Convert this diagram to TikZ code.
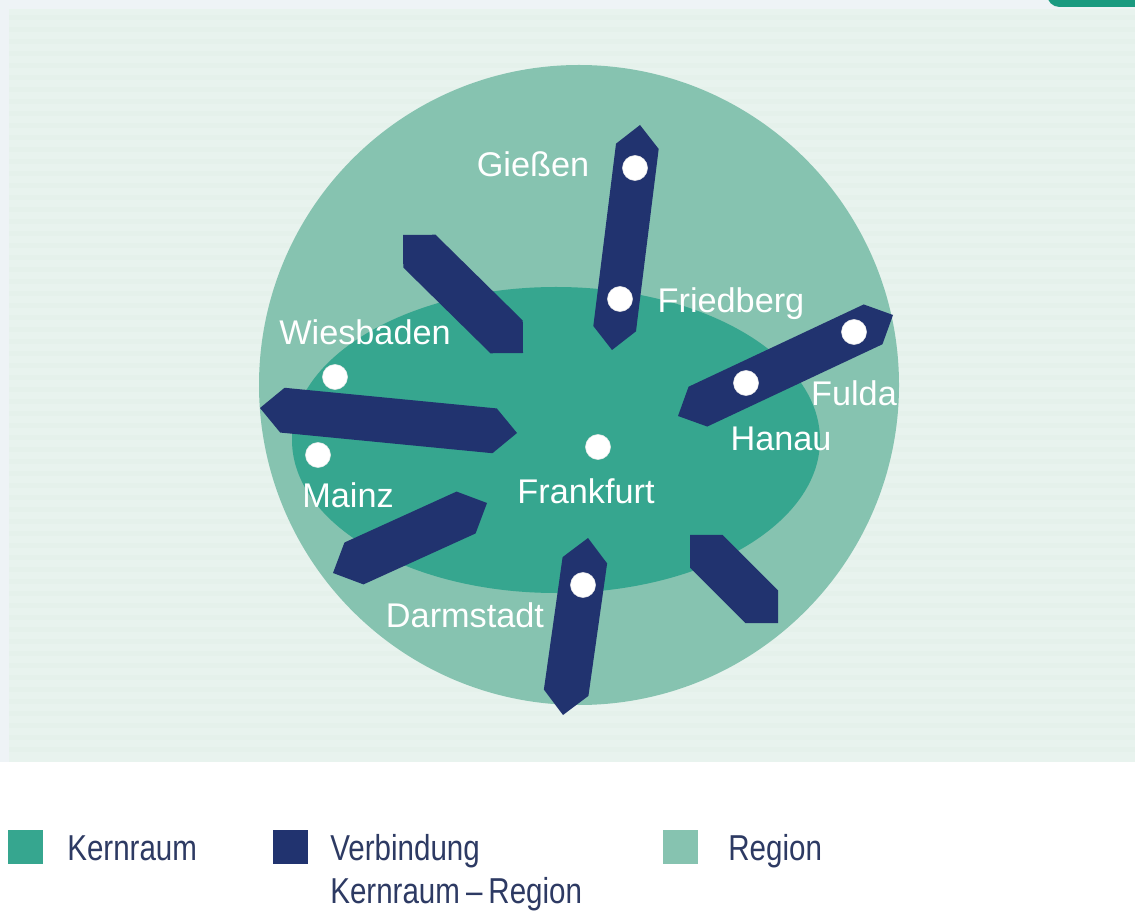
\documentclass[tikz,border=0pt]{standalone}
\usepackage{fontspec}
\setmainfont{Liberation Sans}
\newfontfamily\legendfont[FakeStretch=0.82]{Liberation Sans}
\usetikzlibrary{calc}
\definecolor{regioncol}{HTML}{86C3B0}
\definecolor{kerncol}{HTML}{36A68F}
\definecolor{barblue}{HTML}{21336F}
\definecolor{panelcol}{HTML}{E8F3EE}
\definecolor{stripecol}{HTML}{E5F1EB}
\definecolor{outercol}{HTML}{EEF3F6}
\definecolor{cornercol}{HTML}{1A9A80}
\definecolor{legtext}{HTML}{2D3A63}
\tikzset{
  citydot/.style={circle, fill=white, draw=white!85!gray, line width=0.3pt, minimum size=0.5cm, inner sep=0pt},
  citylabel/.style={text=white, inner sep=0pt, anchor=base, font=\fontsize{19.5}{23}\selectfont},
  legendlabel/.style={text=legtext, inner sep=0pt, anchor=base west, font=\legendfont\fontsize{20.5}{24}\selectfont},
  legendbox/.style={inner sep=0pt, minimum width=0.7cm, minimum height=0.68cm, anchor=north west}
}
\newcommand{\linkbar}[4]{%
  \coordinate (#1-a) at #2;
  \coordinate (#1-b) at #3;
  \coordinate (#1-a1) at ($(#1-a)!#4!(#1-b)$);
  \coordinate (#1-b1) at ($(#1-b)!#4!(#1-a)$);
  \fill[barblue] (#1-a) -- ($(#1-a1)!#4!90:(#1-b)$) -- ($(#1-b1)!#4!-90:(#1-a)$)
     -- (#1-b) -- ($(#1-b1)!#4!90:(#1-a)$) -- ($(#1-a1)!#4!-90:(#1-b)$) -- cycle;
}
\begin{document}
\begin{tikzpicture}[x=0.02cm, y=-0.02cm]
\useasboundingbox (0,0) rectangle (1135,911);
% backgrounds
\fill[white] (0,0) rectangle (1135,911);
\fill[outercol] (0,0) rectangle (1135,762);
\fill[panelcol] (9,9) rectangle (1135,762);
\foreach \yy in {15,27,...,755} \fill[stripecol] (9,\yy) rectangle (1135,\yy+5);
\begin{scope}
  \clip (0,0) rectangle (1135,911);
  \fill[cornercol, rounded corners=0.25cm] (1047,-30) rectangle (1180,7);
\end{scope}
% region and core
\fill[regioncol] (579,385) circle[radius=320];
\fill[kerncol] (556,440) ellipse[x radius=264, y radius=153];
% connection bars
\linkbar{giessen}{(640,125)}{(612,350)}{0.43cm}
\linkbar{fulda}{(678,416)}{(893,315)}{0.44cm}
\linkbar{nw}{(403,235)}{(523,353)}{0.46cm}
\linkbar{west}{(260,408)}{(517,433)}{0.45cm}
\linkbar{sw}{(333,573)}{(487,503)}{0.46cm}
\linkbar{darm}{(588,538)}{(563,715)}{0.45cm}
\linkbar{se}{(690,535)}{(778,623)}{0.46cm}
% city dots
\node[citydot] (d-giessen) at (635,168) {};
\node[citydot] (d-friedberg) at (620,299) {};
\node[citydot] (d-fulda) at (854,332) {};
\node[citydot] (d-hanau) at (746,383) {};
\node[citydot] (d-wiesbaden) at (335,377) {};
\node[citydot] (d-mainz) at (318,455) {};
\node[citydot] (d-frankfurt) at (598,447) {};
\node[citydot] (d-darmstadt) at (583,585) {};
% labels
\node[citylabel] (l-giessen) at (533,177) {Gießen};
\node[citylabel] (l-friedberg) at (731,313) {Friedberg};
\node[citylabel] (l-wiesbaden) at (365,345) {Wiesbaden};
\node[citylabel] (l-fulda) at (854,406) {Fulda};
\node[citylabel] (l-hanau) at (781,451) {Hanau};
\node[citylabel] (l-mainz) at (348,508) {Mainz};
\node[citylabel] (l-frankfurt) at (586,503) {Frankfurt};
\node[citylabel] (l-darmstadt) at (465,627) {Darmstadt};
% legend
\node[legendbox, fill=kerncol] (k-box) at (8,830) {};
\node[legendlabel] (k-text) at (67,860) {Kernraum};
\node[legendbox, fill=barblue] (v-box) at (273,830) {};
\node[legendlabel] (v-text) at (330,860) {Verbindung};
\node[legendlabel] (v-text2) at (330,903) {Kernraum\,–\,Region};
\node[legendbox, fill=regioncol] (r-box) at (663,830) {};
\node[legendlabel] (r-text) at (728,860) {Region};
\end{tikzpicture}
\end{document}
